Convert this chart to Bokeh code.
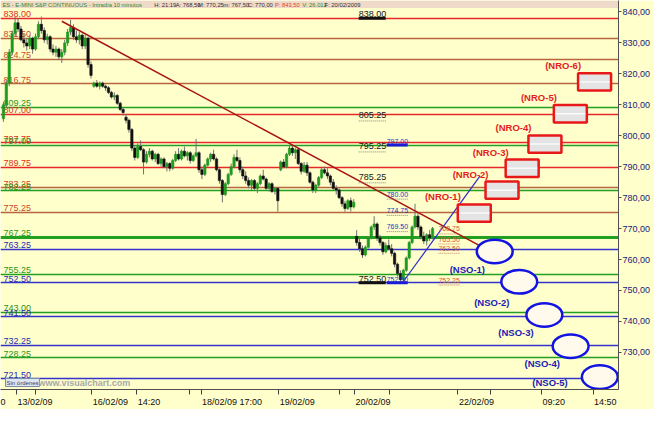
from bokeh.plotting import figure
from bokeh.models import Range1d, FixedTicker, ColumnDataSource, BoxAnnotation
from bokeh.embed import file_html
from bokeh.resources import INLINE
from bokeh.core.properties import value

# ---------------- data ----------------
opens = [805.5, 810, 817, 827, 833, 836.5, 834.5, 831, 830, 829,
         831.5, 828, 832, 836, 834, 831, 832, 828, 827, 828,
         825.5, 827, 830, 833.5, 835, 832, 831, 832.5, 829, 831.5,
         823, 816, 817, 816, 817, 816, 815.5, 814, 812.5, 813,
         810.5, 808.5, 806, 805, 802, 796, 793, 796.5, 795.5, 791.5,
         794, 795, 792.5, 794, 791, 792.5, 790, 791, 789.5, 792,
         794, 792.5, 795, 793.5, 794.5, 792, 793.5, 794.5, 789, 787.5,
         790.5, 792.5, 794, 792.5, 789, 785.5, 781, 784.5, 787.5, 790,
         793, 792, 789, 787, 785.5, 784, 785.5, 783, 784.5, 787,
         786, 783, 784.5, 782, 783, 789, 791.5, 790, 794, 796,
         794.5, 795.5, 791, 788.5, 790.5, 788, 785, 782.5, 784, 786.5,
         789, 788, 787, 785, 783, 782.5, 780, 778, 776.5, 779,
         777, 767.5, 765.5, 763.5, 761.5, 764, 767, 770.5, 771.5, 767,
         765.5, 762.5, 764.5, 763.5, 762, 758.5, 755.5, 753.5, 756.5, 760.5,
         765.5, 770.5, 774, 770.5, 767.5, 766, 768, 767]
highs = [811, 818, 828, 834, 838.5, 838, 835.5, 833, 831.5, 832.5,
         832, 833, 837, 838.5, 835, 833, 832.5, 829.5, 829, 828.5,
         828, 831, 834.5, 837.5, 836, 834, 833.5, 833, 832.5, 832,
         824, 817.5, 818, 817.5, 817.5, 816.5, 816, 814.5, 814, 813.5,
         811, 809, 807, 805.5, 802.5, 797, 797.5, 798.5, 796, 795,
         796, 795.5, 794.5, 794.5, 793, 793, 791.5, 791.5, 792.5, 795,
         796, 795.5, 796.5, 795, 795, 794, 799, 795, 790, 791,
         793, 794.5, 795.5, 793, 789.5, 786, 785, 788, 791, 794,
         795.5, 793, 790, 788.5, 786.5, 786, 786, 785, 787.5, 789,
         786.5, 785, 785, 783.5, 783.5, 792, 792.5, 794.5, 797, 797,
         796, 796, 791.5, 791.5, 791.5, 788.5, 785.5, 784.5, 787, 789.5,
         790, 789.5, 787.5, 786, 784, 783, 780.5, 779, 779.5, 780,
         779.5, 769.5, 767, 764.5, 764.5, 767.5, 771, 774, 772, 768,
         766, 765.5, 766.5, 765, 762.5, 759, 756.5, 757, 761, 766,
         771, 778, 775, 771, 769, 768.5, 769.5, 770.5]
lows = [804.5, 809, 816, 826, 832, 833.5, 830.5, 828.5, 827.5, 828,
        826.5, 827.5, 831.5, 833, 830, 829.5, 827, 826, 825.5, 824.5,
        823.5, 826, 829, 832.5, 831, 830, 829.5, 828, 828, 822,
        818.5, 815.5, 815.5, 815, 815.5, 814.5, 813.5, 812, 811.5, 810,
        808, 806.5, 804, 801, 795, 792, 792.5, 795, 787.5, 791,
        793, 792, 791.5, 790.5, 790, 789.5, 788.5, 788.5, 789, 791.5,
        792, 792, 793, 792, 791, 791.5, 793, 788, 786, 787,
        790, 791.5, 792, 788.5, 784.5, 778.5, 780.5, 784, 787, 789.5,
        791.5, 788, 786, 784.5, 783, 782.5, 782.5, 781.5, 784, 785.5,
        782.5, 782, 781.5, 781, 775.5, 788.5, 789.5, 789.5, 793.5, 793.5,
        792.5, 790.5, 787.5, 788, 787, 784.5, 781.5, 781.5, 783.5, 786,
        787.5, 786, 784, 782.5, 781, 779.5, 777, 775.5, 776, 775.5,
        776.5, 764.5, 762.5, 760.5, 761, 763.5, 766.5, 769.5, 766, 764.5,
        761.5, 762, 763, 761, 757.5, 754.5, 752.5, 752.5, 756, 760,
        765, 770, 769.5, 766.5, 765, 764.5, 766, 766.5]
closes = [810, 817, 827, 833, 836.5, 834.5, 831, 830, 829, 831.5,
          828, 832, 836, 834, 831, 832, 828, 827, 828, 825.5,
          827, 830, 833.5, 835, 832, 831, 832.5, 829, 831.5, 823,
          819.5, 817, 816, 817, 816, 815.5, 814, 812.5, 813, 810.5,
          808.5, 807.5, 805, 802, 796, 793, 796.5, 795.5, 791.5, 794,
          795, 792.5, 794, 791, 792.5, 790, 791, 789.5, 792, 794,
          792.5, 795, 793.5, 794.5, 792, 793.5, 794.5, 789, 787.5, 790.5,
          792.5, 794, 792.5, 789, 785.5, 781, 784.5, 787.5, 790, 793,
          792, 789, 787, 785.5, 784, 785.5, 783, 784.5, 787, 786,
          783, 784.5, 782, 783, 779, 791.5, 790, 794, 796, 794.5,
          795.5, 791, 788.5, 790.5, 788, 785, 782.5, 784, 786.5, 789,
          788, 787, 785, 783, 782.5, 780, 778, 776.5, 779, 777,
          778.5, 765.5, 763.5, 761.5, 764, 767, 770.5, 771.5, 767, 765.5,
          762.5, 764.5, 763.5, 762, 758.5, 755.5, 753.5, 756.5, 760.5, 765.5,
          770.5, 774, 770.5, 767.5, 766, 768, 767, 770]
bars = list(range(len(closes)))

# horizontal levels
level_prices = [838.00, 831.50, 824.75, 816.75, 809.25, 807.00, 797.75, 797.00,
                789.75, 783.25, 782.25, 775.25, 767.25, 763.25, 755.25, 752.50,
                743.00, 741.50, 732.25, 728.25, 721.50]
level_labels = ["838.00", "831.50", "824.75", "816.75", "809.25", "807.00", "797.75", "797.00",
                "789.75", "783.25", "782.25", "775.25", "767.25", "763.25", "755.25", "752.50",
                "743.00", "741.50", "732.25", "728.25", "721.50"]
level_kind = ["R", "B", "B", "B", "G", "R", "R", "G",
              "R", "B", "G", "B", "G", "U", "G", "U",
              "G", "U", "U", "G", "U"]

# trend lines
down_bars = [20.0, 165.7]
down_prices = [837.0, 763.2]
up_bars = [136.7, 163.3]
up_prices = [752.5, 787.0]

# projection labels in the middle
fib_text = ["838.00", "805.25", "795.25", "785.25", "752.50"]
fib_prices = [838.00, 805.25, 795.25, 785.25, 752.50]
fib_bars = [121.7, 121.7, 121.7, 121.7, 121.7]
fib_solid = [True, False, False, False, True]

blue_text = ["797.00", "780.00", "774.75", "769.50", "752.50"]
blue_prices = [797.00, 780.00, 774.75, 769.50, 752.50]
blue_bars = [131.3, 131.3, 131.3, 131.3, 131.3]
blue_solid = [True, False, False, False, True]

red_text = ["768.75", "765.50", "762.50", "752.25"]
red_prices = [768.75, 765.50, 762.50, 752.25]
red_bars = [149.0, 149.0, 149.0, 149.0]

# NRO boxes / NSO ellipses
nro_names = ["(NRO-1)", "(NRO-2)", "(NRO-3)", "(NRO-4)", "(NRO-5)", "(NRO-6)"]
nro_prices = [775.0, 782.4, 789.5, 797.3, 807.1, 817.4]
nro_bars = [161.3, 170.8, 177.7, 185.5, 194.2, 202.5]
nso_names = ["(NSO-1)", "(NSO-2)", "(NSO-3)", "(NSO-4)", "(NSO-5)"]
nso_prices = [762.6, 752.8, 742.1, 732.0, 722.0]
nso_bars = [168.3, 176.7, 185.3, 194.3, 204.3]

# axes
price_ticks = [730, 740, 750, 760, 770, 780, 790, 800, 810, 820, 830, 840]
xtick_labels = ["13/02/09", "16/02/09", "14:20", "18/02/09 17:00", "19/02/09",
                "20/02/09", "22/02/09", "09:20", "14:50"]
xtick_bars = [4.5, 30.3, 45.7, 67.7, 94.3, 120.3, 155.7, 184.3, 202.0]
xminor_extra = [11.0, 63.7, 115.0, 132.3, 167.0]

header_texts = ["ES - E-MINI S&P CONTINUOUS - Intradía 10 minutos", "H: 21:19", "A: 768,50",
                "M: 770,25", "m: 767,50", "C: 770,00", "P: 843,50", "V: 26.012", "F: 20/02/2009"]

# ---------------- styling ----------------
BG = "#FFFFCC"
W, H = 654, 409
RB, BB = 36, 17
FRAME_W, FRAME_H = W - RB, H - BB
X0, X1 = -1.0, 210.7
Y0, Y1 = 718.0, 843.7
PXX = FRAME_W / (X1 - X0)
PXY = FRAME_H / (Y1 - Y0)
SX = FRAME_W / 635.0
SY = FRAME_H / 411.0
FONT = value("Liberation Sans")

line_col = {"R": "#E62828", "B": "#B8643E", "G": "#22A022", "U": "#3434CC"}
text_col = {"R": "#E03020", "B": "#CC4A2A", "G": "#2E9420", "U": "#2A2AB4"}
line_w = {767.25: 3.0}

p = figure(width=W, height=H, x_range=Range1d(X0, X1), y_range=Range1d(Y0, Y1),
           output_backend="svg", toolbar_location=None, y_axis_location="right",
           min_border_left=0, min_border_right=RB, min_border_top=0, min_border_bottom=BB,
           background_fill_color=BG, border_fill_color=BG, outline_line_color=None)
p.grid.visible = False

# header band
p.add_layout(BoxAnnotation(bottom=Y1 - 8 * SY / PXY, fill_color="#EFD9C9", fill_alpha=1.0,
                           line_color=None, level="underlay"))
head_cols = ["#2E8B22", "#303030", "#303030", "#303030", "#303030", "#303030",
             "#E04818", "#2E8B22", "#303030"]
head_off = [2, 158, 180, 203, 229, 254, 282, 310, 333]
p.text(x=[X0] * len(header_texts), y=[Y1] * len(header_texts), text=header_texts,
       x_offset=[o * SX for o in head_off], y_offset=1, text_color=head_cols,
       text_font=FONT, text_font_size="5.8px",
       text_baseline="top", text_align="left")

# level lines and labels
lsrc = ColumnDataSource(dict(
    y=level_prices, lab=level_labels,
    lc=[line_col[k] for k in level_kind], tc=[text_col[k] for k in level_kind],
    lw=[line_w.get(v, 1.6) for v in level_prices], x=[X0] * len(level_prices)))
p.hspan(y="y", line_color="lc", line_width="lw", source=lsrc)
p.text(x="x", y="y", text="lab", text_color="tc", source=lsrc, x_offset=3, y_offset=-1,
       text_font=FONT, text_font_size="9px", text_baseline="bottom", text_align="left")

# candles
csrc = ColumnDataSource(dict(
    bar=bars, o=opens, h=highs, l=lows, c=closes,
    top=[max(o, c) for o, c in zip(opens, closes)],
    bot=[min(o, c) for o, c in zip(opens, closes)],
    col=["#1E9A1E" if c >= o else "#111111" for o, c in zip(opens, closes)]))
p.segment(x0="bar", y0="l", x1="bar", y1="h", line_color="#707070", line_width=1, source=csrc)
p.vbar(x="bar", width=0.8, top="top", bottom="bot", fill_color="col", line_color="col",
       line_width=0.6, source=csrc)

# trend lines
p.line(down_bars, down_prices, line_color="#A81414", line_width=1.5)
p.line(up_bars, up_prices, line_color="#2A2AD0", line_width=1.2)

# middle projection labels with underlines
fw = 27.0 / PXX
p.segment(x0=[b for b, s in zip(fib_bars, fib_solid) if s], x1=[b + fw for b, s in zip(fib_bars, fib_solid) if s],
          y0=[v for v, s in zip(fib_prices, fib_solid) if s], y1=[v for v, s in zip(fib_prices, fib_solid) if s],
          line_color="#101010", line_width=3)
p.segment(x0=[b for b, s in zip(fib_bars, fib_solid) if not s], x1=[b + fw for b, s in zip(fib_bars, fib_solid) if not s],
          y0=[v - 1.5 / PXY for v, s in zip(fib_prices, fib_solid) if not s],
          y1=[v - 1.5 / PXY for v, s in zip(fib_prices, fib_solid) if not s],
          line_color="#808080", line_width=1, line_dash="1 1")
p.text(x=fib_bars, y=fib_prices, text=fib_text, text_color="#181818", x_offset=0, y_offset=-1,
       text_font=FONT, text_font_size="9px", text_baseline="bottom", text_align="left")

bw = 21.0 / PXX
p.segment(x0=[b for b, s in zip(blue_bars, blue_solid) if s], x1=[b + bw for b, s in zip(blue_bars, blue_solid) if s],
          y0=[v for v, s in zip(blue_prices, blue_solid) if s], y1=[v for v, s in zip(blue_prices, blue_solid) if s],
          line_color="#1A1AD8", line_width=3)
p.segment(x0=[b for b, s in zip(blue_bars, blue_solid) if not s], x1=[b + bw for b, s in zip(blue_bars, blue_solid) if not s],
          y0=[v - 1.5 / PXY for v, s in zip(blue_prices, blue_solid) if not s],
          y1=[v - 1.5 / PXY for v, s in zip(blue_prices, blue_solid) if not s],
          line_color="#808080", line_width=1, line_dash="1 1")
p.text(x=blue_bars, y=blue_prices, text=blue_text, text_color="#2434C4", y_offset=-1,
       text_font=FONT, text_font_size="7px", text_baseline="bottom", text_align="left")

p.segment(x0=red_bars, x1=[b + bw for b in red_bars],
          y0=[v - 1.5 / PXY for v in red_prices], y1=[v - 1.5 / PXY for v in red_prices],
          line_color="#C08060", line_width=1, line_dash="1 1")
p.text(x=red_bars, y=red_prices, text=red_text, text_color="#D4583A", y_offset=-1,
       text_font=FONT, text_font_size="7px", text_baseline="bottom", text_align="left")

# NRO boxes
NRO_W, NRO_H = 11.3, 5.6
p.rect(x=nro_bars, y=nro_prices, width=NRO_W, height=NRO_H, fill_color="#E4E4E4",
       line_color="#E81818", line_width=2.5)
p.segment(x0=[b - NRO_W / 2 + 0.5 for b in nro_bars], x1=[b + NRO_W / 2 - 0.5 for b in nro_bars],
          y0=nro_prices, y1=nro_prices, line_color="#FAFAFA", line_width=1.5)
p.text(x=[b - NRO_W / 2 for b in nro_bars], y=[v + NRO_H / 2 for v in nro_prices], text=nro_names,
       text_color="#E41C1C", x_offset=3, y_offset=-2, text_font=FONT, text_font_size="9.5px",
       text_font_style="bold", text_baseline="bottom", text_align="right")

# NSO ellipses
NSO_W, NSO_H = 12.3, 7.6
p.ellipse(x=nso_bars, y=nso_prices, width=NSO_W, height=NSO_H, fill_color="#FFFAEC",
          line_color="#1414E0", line_width=2.5)
nso_dx = [-10, -10, -11, -11, -33]
nso_dy = [13, 16, 13, 12, 0]
p.text(x=nso_bars, y=nso_prices, text=nso_names, text_color="#2020B8",
       x_offset=[d * SX for d in nso_dx], y_offset=[d * SY for d in nso_dy],
       text_font=FONT, text_font_size="9.5px", text_font_style="bold",
       text_baseline="top", text_align="right")

# footer items inside the frame
p.text(x=[X0], y=[Y0], text=["Sin órdenes"], x_offset=5, y_offset=-3, text_color="#304070",
       text_font=FONT, text_font_size="6px", text_baseline="bottom", text_align="left",
       background_fill_color="#DCE6F2", border_line_color="#7A8CA8", padding=1)
p.text(x=[X0], y=[Y0], text=["www.visualchart.com"], x_offset=39 * SX, y_offset=-2,
       text_color="#A8A8A8", text_font=FONT, text_font_size="9px", text_font_style="bold",
       text_baseline="bottom", text_align="left")

# bottom axis: labels start at their tick marks
def label_w(s, fs=9.0):
    w = 0.0
    for ch in s:
        w += 0.556 if ch.isdigit() else 0.278
    return w * fs

centers = [round(b + (label_w(s) / 2 + 1) / PXX, 3) for b, s in zip(xtick_bars, xtick_labels)]
zero_c = round(X0 + 2.5 / PXX, 3)
xax = p.xaxis[0]
xax.ticker = FixedTicker(ticks=[zero_c] + centers, minor_ticks=xtick_bars + xminor_extra)
ov = {c: s for c, s in zip(centers, xtick_labels)}
ov[zero_c] = "0"
xax.major_label_overrides = ov
xax.major_tick_out = 0
xax.major_tick_in = 0
xax.minor_tick_out = 5
xax.minor_tick_in = 0
xax.minor_tick_line_color = "#404040"
xax.axis_line_color = "#505050"
xax.major_label_text_font = "Liberation Sans"
xax.major_label_text_font_size = "9px"
xax.major_label_text_color = "#101010"
xax.major_label_standoff = 2

yax = p.yaxis[0]
yax.ticker = FixedTicker(ticks=price_ticks)
yax.major_label_overrides = {t: f"{t:.2f}".replace(".", ",") for t in price_ticks}
yax.major_tick_out = 3
yax.major_tick_in = 0
yax.minor_tick_out = 0
yax.minor_tick_in = 0
yax.axis_line_color = "#505050"
yax.major_tick_line_color = "#505050"
yax.major_label_text_font = "Liberation Sans"
yax.major_label_text_font_size = "9px"
yax.major_label_text_color = "#1A1A78"
yax.major_label_standoff = 1

open("out.html", "w").write(file_html(p, INLINE))
